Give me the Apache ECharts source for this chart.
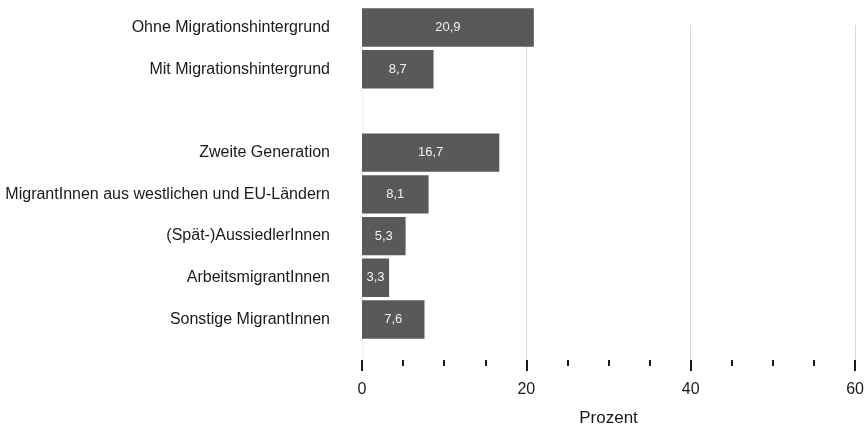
<!DOCTYPE html>
<html>
<head>
<meta charset="utf-8">
<script src="https://cdn.jsdelivr.net/npm/echarts@6/dist/echarts.min.js"></script>
<style>
  html, body { margin: 0; padding: 0; background: #fff; }
  #chart { width: 867px; height: 432px; }
</style>
</head>
<body>
<div id="chart"></div>
<script>
// Groups (empty entry leaves a gap between the two blocks)
const categories = [
  'Ohne Migrationshintergrund',
  'Mit Migrationshintergrund',
  '',
  'Zweite Generation',
  'MigrantInnen aus westlichen und EU-Ländern',
  '(Spät-)AussiedlerInnen',
  'ArbeitsmigrantInnen',
  'Sonstige MigrantInnen'
];
// Share in percent
const values = [20.9, 8.7, null, 16.7, 8.1, 5.3, 3.3, 7.6];
// Percent scale
const axisMin = 0;
const axisMax = 60;
const axisStep = 20;
const axisTitle = 'Prozent';

const font = '"Liberation Sans", Arial, Helvetica, sans-serif';
const chart = echarts.init(document.getElementById('chart'), null, { renderer: 'canvas' });

chart.setOption({
  animation: false,
  backgroundColor: '#ffffff',
  textStyle: { fontFamily: font },
  grid: [
    // bars
    { left: 362, right: 11.7, top: 6.6, bottom: 91.6, containLabel: false },
    // gridlines and scale
    { left: 362, right: 11.7, top: 25, bottom: 72, containLabel: false }
  ],
  xAxis: [
    {
      gridIndex: 0, type: 'value', min: axisMin, max: axisMax, interval: axisStep,
      show: false
    },
    {
      gridIndex: 1, type: 'value', min: axisMin, max: axisMax, interval: axisStep,
      name: axisTitle, nameLocation: 'middle', nameGap: 50,
      nameTextStyle: { fontSize: 17, color: '#1a1a1a', fontFamily: font },
      axisLine: { show: false },
      axisTick: { show: true, length: 11, lineStyle: { color: '#1a1a1a', width: 2 } },
      minorTick: { show: true, splitNumber: 4, length: 6, lineStyle: { color: '#1a1a1a', width: 2 } },
      axisLabel: { fontSize: 16, color: '#1a1a1a', margin: 22, fontFamily: font },
      splitLine: { show: true, lineStyle: { color: ['#f2f2f2', '#d9d9d9', '#d9d9d9', '#d9d9d9'], width: 1 } },
      minorSplitLine: { show: false }
    }
  ],
  yAxis: [
    {
      gridIndex: 0, type: 'category', data: categories, inverse: true,
      axisLine: { show: false },
      axisTick: { show: false },
      splitLine: { show: false },
      axisLabel: { fontSize: 16, color: '#1a1a1a', margin: 32, fontFamily: font }
    },
    {
      gridIndex: 1, type: 'value', show: false, min: 0, max: 1
    }
  ],
  series: [
    {
      type: 'bar',
      xAxisIndex: 0,
      yAxisIndex: 0,
      data: values,
      barCategoryGap: '8%',
      itemStyle: { color: '#595959' },
      label: {
        show: true,
        position: 'inside',
        color: '#f2f2f2',
        fontSize: 13,
        fontFamily: font,
        formatter: p => String(p.value).replace('.', ',')
      },
      z: 3
    }
  ]
});
</script>
</body>
</html>
